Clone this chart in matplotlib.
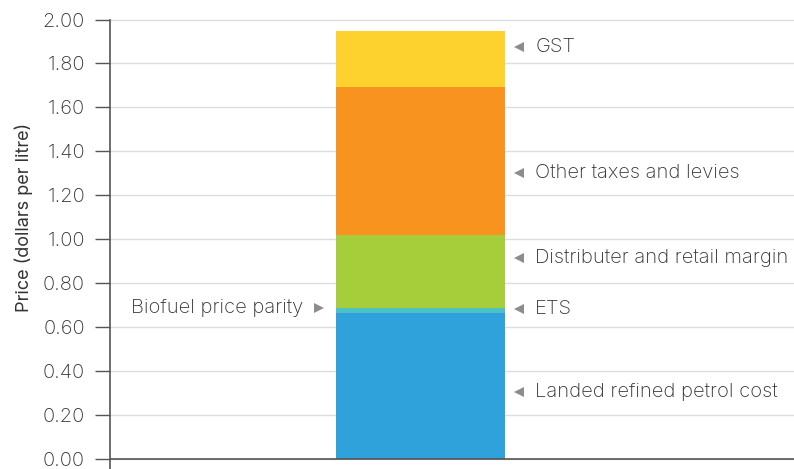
import matplotlib
matplotlib.use("Agg")
import matplotlib.pyplot as plt
import numpy as np

plt.rcParams['font.family'] = ['Inter', 'DejaVu Sans']
plt.rcParams['font.weight'] = 'light'

# Petrol price components (dollars per litre), bottom to top
components = ["Landed refined petrol cost", "ETS", "Distributer and retail margin",
              "Other taxes and levies", "GST"]
values = [0.665, 0.022, 0.333, 0.675, 0.254]
colors = ["#2FA2DB", "#4EC1C4", "#A6CE3A", "#F7931E", "#FDD22E"]
label_y = [0.305, 0.683, 0.914, 1.303, 1.875]
parity_value = values[0] + values[1]

yticks = np.arange(0, 2.01, 0.2)
ytick_labels = [f"{v:.2f}" for v in yticks]

fig = plt.figure(figsize=(7.94, 4.69), dpi=100)
ax = fig.add_axes([110 / 794, 0.0, 684 / 794, 449.5 / 469])

bottom = 0.0
for v, c in zip(values, colors):
    ax.bar(0, v, bottom=bottom, width=1.0, color=c, edgecolor='none', zorder=3)
    bottom += v

ax.set_xlim(-1.836, 2.21)
ax.set_ylim(-0.044, 2.0)

ax.set_yticks(yticks)
ax.set_yticklabels(ytick_labels, fontsize=14.5, color="#333333")
ax.tick_params(axis='y', length=11, width=1.0, color="#555555", pad=7)
ax.set_xticks([])
ax.yaxis.grid(True, color="#DDDDDD", linewidth=1.0, zorder=0)

for side in ["top", "right", "bottom"]:
    ax.spines[side].set_visible(False)
ax.spines["left"].set_color("#555555")
ax.spines["left"].set_linewidth(1.2)
ax.axhline(0, color="#555555", linewidth=1.2, zorder=4)

ax.set_ylabel("Price (dollars per litre)", fontsize=13, color="#333333")
ax.yaxis.set_label_coords(-0.113, 0.56)

# Component labels to the right of the bar
for name, y in zip(components, label_y):
    ax.plot([0.585], [y], marker='<', markersize=7, color="#8C8C8C",
            markeredgewidth=0, clip_on=False, zorder=5)
    ax.text(0.68, y, name, fontsize=14.5, color="#333333", va='center', ha='left')

# Biofuel parity marker on the left
ax.plot([-0.6], [parity_value], marker='>', markersize=7, color="#8C8C8C",
        markeredgewidth=0, clip_on=False, zorder=5)
ax.text(-0.69, parity_value, "Biofuel price parity", fontsize=14.5, color="#333333",
        va='center', ha='right')

fig.savefig("out.png", dpi=100)
